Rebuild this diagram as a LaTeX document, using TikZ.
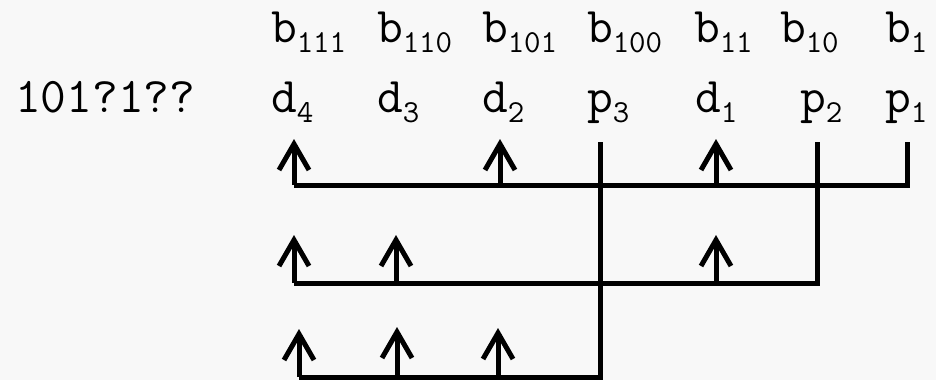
\documentclass[tikz,border=0pt]{standalone}
\usepackage{fontspec}
\usetikzlibrary{arrows.meta}
\definecolor{paper}{HTML}{F8F8F8}
\newcommand{\bigtt}{\ttfamily\fontsize{50}{60}\selectfont}
\newcommand{\smalltt}{\ttfamily\fontsize{32}{38}\selectfont}
\newcommand{\bit}[2]{{\bigtt #1}\raisebox{-10pt}{\smalltt #2}}
\begin{document}
\begin{tikzpicture}[x=1pt,y=-1pt,
  lbl/.style={anchor=base west,inner sep=0pt,outer sep=0pt},
  wire/.style={line width=5pt,line join=miter},
  chk/.style={wire,-{Straight Barb[length=26pt 0,width=30pt 0,line width=5pt]}}]
  \fill[paper] (0,0) rectangle (936,380);
  \useasboundingbox (0,0) rectangle (936,380);
  % bit index row
  \node[lbl] (b111) at (271,42) {\bit{b}{111}};
  \node[lbl] (b110) at (377,42) {\bit{b}{110}};
  \node[lbl] (b101) at (482,42) {\bit{b}{101}};
  \node[lbl] (b100) at (587,42) {\bit{b}{100}};
  \node[lbl] (b11)  at (694,42) {\bit{b}{11}};
  \node[lbl] (b10)  at (780,42) {\bit{b}{10}};
  \node[lbl] (b1)   at (885,42) {\bit{b}{1}};
  % codeword row
  \node[lbl] (word) at (15,112) {\bigtt 101?1??};
  \node[lbl] (d4) at (271,112) {\bit{d}{4}};
  \node[lbl] (d3) at (377,112) {\bit{d}{3}};
  \node[lbl] (d2) at (482,112) {\bit{d}{2}};
  \node[lbl] (p3) at (587,112) {\bit{p}{3}};
  \node[lbl] (d1) at (695,112) {\bit{d}{1}};
  \node[lbl] (p2) at (800,112) {\bit{p}{2}};
  \node[lbl] (p1) at (885,112) {\bit{p}{1}};
  % parity check 1
  \coordinate (p1top) at (907,142);
  \coordinate (p1bot) at (907,185);
  \coordinate (r1l) at (294,185);
  \draw[wire] (p1top) -- (p1bot) -- (r1l);
  \draw[chk] (r1l) -- (294,139);
  \draw[chk] (500,185) -- (500,139);
  \draw[chk] (716,185) -- (716,139);
  % parity check 2
  \coordinate (p2top) at (817,142);
  \coordinate (p2bot) at (817,283);
  \coordinate (r2l) at (294,283);
  \draw[wire] (p2top) -- (p2bot) -- (r2l);
  \draw[chk] (r2l) -- (294,235);
  \draw[chk] (396,283) -- (396,235);
  \draw[chk] (716,283) -- (716,235);
  % parity check 3
  \coordinate (p3top) at (600,142);
  \coordinate (p3bot) at (600,377);
  \coordinate (r3l) at (299,377);
  \draw[wire] (p3top) -- (p3bot) -- (r3l);
  \draw[chk] (r3l) -- (299,329);
  \draw[chk] (397,377) -- (397,327);
  \draw[chk] (498,377) -- (498,328);
\end{tikzpicture}
\end{document}
